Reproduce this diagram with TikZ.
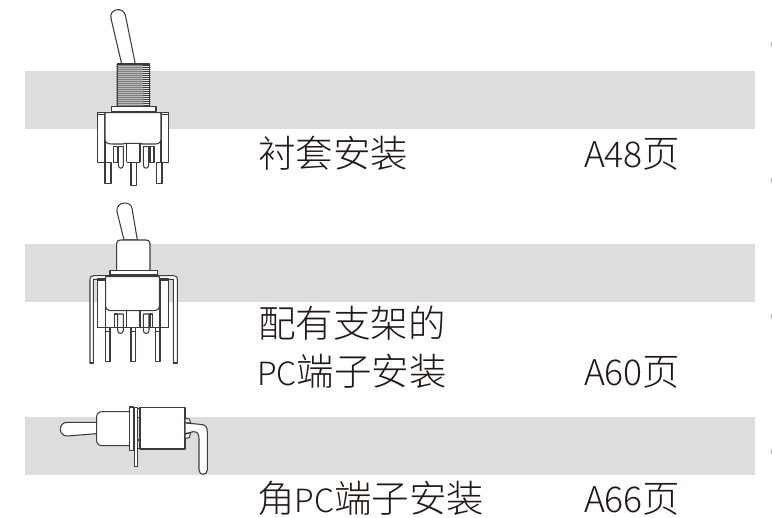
\documentclass[tikz,border=0pt]{standalone}
\usepackage{fontspec}
\setmainfont[UprightFont={* Light}]{Noto Sans CJK SC}
\definecolor{bandgray}{HTML}{DCDDDD}
\definecolor{inkline}{HTML}{3E3A39}
\definecolor{textink}{HTML}{231815}
\newcommand{\lat}[1]{{\fontsize{35.5}{40}\selectfont #1}}
\newcommand{\latpc}[1]{{\fontsize{32}{40}\selectfont #1}}
\tikzset{
  band/.style={fill=bandgray,draw=none},
  tick/.style={fill=bandgray!80!black,draw=none},
  label/.style={inner sep=0pt,outer sep=0pt,anchor=base west,text=textink,font=\fontsize{37.5}{40}\selectfont},
  part/.style={draw=inkline,line width=1.05pt,line join=round,fill=white},
  wire/.style={draw=inkline,line width=1.05pt,line join=round},
  zoomed/.style={x=0.3333pt,y=-0.3333pt},
}
\begin{document}
\begin{tikzpicture}[x=1pt,y=-1pt]
\useasboundingbox (0,0) rectangle (772,518);
\fill[white] (0,0) rectangle (772,518);
\foreach \yy in {71,244,417} \path[band] (25,\yy) rectangle (755,\yy+58);
\foreach \yy in {45,181,317,452} \path[tick] (770.5,\yy-2.5) rectangle (772,\yy+2.5);

% first switch
\begin{scope}[xshift=60pt,zoomed]
\path[part] (185,192) -- (153,55) .. controls (147,25) and (190,20) .. (196,45) -- (226,192) -- cycle;
\path[part] (172,192) rectangle (268,320);
\foreach \yy in {195,201,...,318} \draw[wire,line width=1pt] (169,\yy) -- (271,\yy+1);
\path[part] (155,320) rectangle (288,335);
\path[part] (113,338) rectangle (135,487);
\path[part] (303,338) rectangle (325,487);
\draw[wire] (115,343) -- (135,343) (303,343) -- (323,343);
\path[part] (135,338) -- (303,338) -- (303,418) .. controls (303,428) and (295,432) .. (285,432) -- (245,432) -- (245,430) -- (192,430) -- (192,432) -- (155,432) .. controls (143,432) and (135,428) .. (135,418) -- cycle;
\path[part] (160,440) rectangle (172,487);
\path[part] (270,440) rectangle (282,487);
\path[part] (175,440) -- (175,495) .. controls (175,508) and (190,508) .. (190,495) -- (190,440) -- cycle;
\path[part] (250,440) -- (250,495) .. controls (250,508) and (266,508) .. (266,495) -- (266,440) -- cycle;
\draw[wire] (200,432) -- (200,487) (240,432) -- (240,487) (200,487) -- (240,487);
\path[part] (135,487) rectangle (153,550);
\path[part] (213,487) rectangle (230,556);
\path[part] (290,487) rectangle (306,550);
\end{scope}

% second switch
\begin{scope}[xshift=60pt,yshift=-190pt,zoomed]
\path[part] (192,150) -- (171,65) .. controls (166,35) and (212,30) .. (216,55) -- (232,150) -- cycle;
\path[part] (170,242) -- (170,160) .. controls (170,152) and (176,150) .. (182,150) -- (258,150) .. controls (264,150) and (270,152) .. (270,160) -- (270,242) -- cycle;
\path[part] (90,520) -- (90,270) .. controls (90,260) and (94,257) .. (102,257) -- (340,257) .. controls (348,257) and (352,260) .. (352,270) -- (352,520) -- (340,520) -- (340,268) -- (100,268) -- (100,520) -- cycle;
\path[wire,line width=1.6pt] (90,519) -- (100,519) (340,519) -- (352,519);
\path[part] (150,242) rectangle (292,255);
\path[part] (113,265) rectangle (137,412);
\path[part] (300,265) rectangle (325,412);
\draw[wire] (113,270) -- (137,270) (300,270) -- (325,270);
\path[part] (137,260) -- (298,260) -- (298,348) .. controls (298,358) and (290,362) .. (280,362) -- (240,362) -- (190,362) -- (155,362) .. controls (145,362) and (137,358) .. (137,348) -- cycle;
\path[part] (163,372) rectangle (172,412);
\path[part] (270,372) rectangle (278,412);
\path[part] (173,372) -- (173,422) .. controls (173,433) and (190,433) .. (190,422) -- (190,372) -- cycle;
\path[part] (250,372) -- (250,422) .. controls (250,433) and (267,433) .. (267,422) -- (267,372) -- cycle;
\draw[wire] (200,362) -- (200,412) (240,362) -- (240,412) (113,412) -- (325,412);
\path[part] (137,412) rectangle (150,515);
\path[part] (213,412) rectangle (227,515);
\path[part] (287,412) rectangle (300,515);
\draw[wire] (137,425) -- (150,425) (213,425) -- (227,425) (287,425) -- (300,425);
\end{scope}

% third switch
\begin{scope}[xshift=50pt,yshift=-395pt,zoomed]
\path[part] (140,82) -- (52,82) .. controls (24,82) and (24,123) .. (52,123) -- (140,116) -- cycle;
\path[part] (240,50) -- (158,50) .. controls (146,50) and (140,56) .. (140,66) -- (140,136) .. controls (140,146) and (146,152) .. (158,152) -- (240,152) -- cycle;
\path[part] (238,36) rectangle (250,166);
\path[part] (253,38) rectangle (263,215);
\path[part] (270,38) rectangle (405,162);
\draw[wire] (263,40) -- (270,40) (263,160) -- (270,160);
\draw[wire,line width=1.6pt] (263,68) -- (268,68) (263,135) -- (268,135);
\path[part] (405,70) -- (418,72) -- (422,84) -- (405,84) -- cycle;
\path[part] (405,118) -- (422,112) -- (418,128) -- (405,130) -- cycle;
\path[part] (405,84) -- (450,88) .. controls (466,88) and (472,96) .. (472,110) -- (472,225) .. controls (472,242) and (447,242) .. (447,225) -- (447,130) .. controls (447,116) and (442,110) .. (430,110) -- (405,116) -- cycle;
\end{scope}

\node[label] (t1) at (258,168) {衬套安装};
\node[label] (p1) at (584,168) {\lat{A48}页};
\node[label] (t2a) at (258,338) {配有支架的};
\node[label] (t2b) at (257,386) {\latpc{PC}端子安装};
\node[label] (p2) at (584,386) {\lat{A60}页};
\node[label] (t3) at (257,513) {角\latpc{PC}端子安装};
\node[label] (p3) at (584,513) {\lat{A66}页};
\end{tikzpicture}
\end{document}
